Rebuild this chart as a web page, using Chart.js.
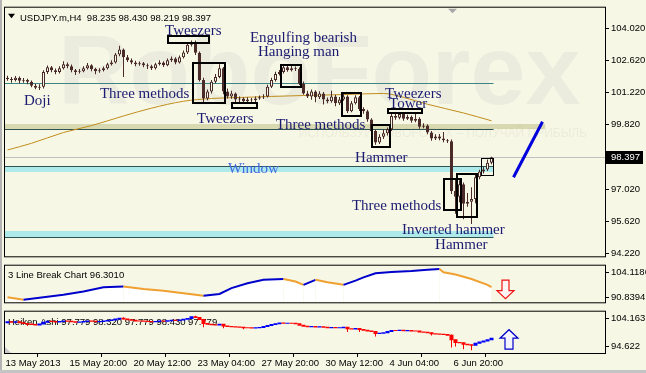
<!DOCTYPE html>
<html><head><meta charset="utf-8">
<script src="https://cdn.jsdelivr.net/npm/chart.js@4/dist/chart.umd.min.js"></script>
<style>
html,body{margin:0;padding:0;background:#f7f7e6;}
#wrap{position:relative;width:646px;height:373px;overflow:hidden;background:#f7f7e6;}
canvas{position:absolute;left:0;}
#frameL{position:absolute;left:0;top:0;width:2px;height:373px;background:#b4b4b4;}
#frameB{position:absolute;left:0;top:370px;width:646px;height:3px;background:#c4c4c4;}
</style></head><body>
<div id="wrap">
<canvas id="cA" width="646" height="264" style="top:0px"></canvas>
<canvas id="cB" width="646" height="52" style="top:258px"></canvas>
<canvas id="cC" width="646" height="69" style="top:304px"></canvas>
<div id="frameL"></div><div id="frameB"></div>
</div>
<script>
// ---------------- DATA ----------------
const symbolName = 'USDJPY.m,H4';
const lastQuote = ['98.235', '98.430', '98.219', '98.397'];
const lastPrice = 98.397;
const priceTicks = [94.22, 95.62, 97.02, 99.82, 101.22, 102.62, 104.02];
const timeLabels = ['13 May 2013', '15 May 20:00', '20 May 12:00', '23 May 04:00', '27 May 20:00', '30 May 12:00', '4 Jun 04:00', '6 Jun 20:00'];
const timeTickIdx = [0, 16, 32, 48, 64, 80, 96, 112];

const candleOpen = [101.86,101.81,101.77,101.86,101.73,101.77,101.69,101.52,101.43,101.47,
102.11,102.32,102.19,102.11,102.28,102.45,102.36,102.19,102.11,102.15,
102.28,102.41,102.24,102.15,102.19,102.28,102.45,102.53,102.87,103.09,
102.75,102.62,102.53,102.45,102.49,102.41,102.36,102.28,102.45,102.53,
102.41,102.62,102.70,102.53,102.75,102.96,103.30,103.36,102.95,101.77,
100.96,101.26,101.69,101.90,102.28,101.26,101.05,101.18,100.92,100.96,
100.84,100.92,100.88,100.96,101.01,101.05,101.47,101.77,102.03,102.11,
102.32,102.19,102.28,102.24,101.60,101.18,101.05,101.26,101.01,101.18,
100.92,100.84,101.05,100.75,100.92,101.05,100.41,100.75,101.01,100.50,
100.41,100.05,99.55,99.05,99.30,99.45,99.62,100.20,100.12,100.29,
100.08,100.16,99.99,100.08,99.73,99.78,99.48,99.22,99.31,99.22,
99.14,99.10,96.93,96.68,97.23,96.38,96.47,96.59,97.53,97.78,
97.87,98.16];
const candleHigh = [101.95,101.90,101.94,101.92,101.85,101.82,101.74,101.60,101.58,102.19,
102.40,102.37,102.26,102.36,102.58,102.53,102.44,102.24,102.24,102.36,
102.50,102.45,102.30,102.28,102.35,102.52,102.62,102.94,103.25,103.14,
102.85,102.70,102.60,102.57,102.55,102.48,102.43,102.52,102.62,102.58,
102.70,102.79,102.75,102.83,103.05,103.40,103.48,103.48,103.00,101.86,
101.35,101.77,102.03,102.45,102.33,101.40,101.30,101.22,101.05,101.01,
101.01,100.98,101.05,101.09,101.14,101.56,101.86,102.12,102.20,102.41,
102.40,102.37,102.35,102.32,101.70,101.30,101.35,101.32,101.28,101.24,
101.00,101.30,101.12,101.02,101.18,101.10,100.85,101.10,101.07,100.58,
100.47,100.10,99.60,99.40,99.62,99.70,100.30,100.28,100.37,100.34,
100.25,100.22,100.30,100.14,99.88,99.84,99.55,99.40,99.42,99.50,
99.20,99.18,97.45,97.40,97.30,96.85,97.10,97.65,97.86,97.98,
98.30,98.43];
const candleLow = [101.73,101.65,101.70,101.62,101.64,101.58,101.45,101.36,101.33,101.40,
102.03,102.10,102.02,102.05,102.22,102.28,102.10,101.98,102.05,102.10,
102.22,102.15,102.02,102.08,102.13,102.22,102.40,102.48,102.80,101.90,
102.55,102.45,102.36,102.38,102.32,102.24,102.20,102.22,102.40,102.33,
102.36,102.55,102.45,102.48,102.70,102.90,103.22,102.85,101.70,100.80,
100.88,101.18,101.62,101.84,101.14,100.96,100.95,100.80,100.72,100.74,
100.75,100.74,100.76,100.90,100.94,101.00,101.42,101.70,101.96,102.05,
102.12,102.13,102.16,101.55,101.12,100.98,100.90,100.80,100.94,100.70,
100.75,100.78,100.62,100.68,100.86,100.33,100.36,100.70,100.42,100.30,
99.95,99.45,98.95,98.98,99.20,99.35,99.55,100.04,100.06,99.99,
100.02,99.90,99.93,99.64,99.66,99.40,99.12,99.15,99.14,99.06,
99.02,96.80,95.95,96.45,95.70,96.25,95.50,96.40,97.45,97.70,
97.80,98.10];
const candleClose = [101.81,101.77,101.86,101.73,101.77,101.69,101.52,101.43,101.47,102.11,
102.32,102.19,102.11,102.28,102.45,102.36,102.19,102.11,102.15,102.28,
102.41,102.24,102.15,102.19,102.28,102.45,102.53,102.87,103.09,102.75,
102.62,102.53,102.45,102.49,102.41,102.36,102.28,102.45,102.53,102.41,
102.62,102.70,102.53,102.75,102.96,103.30,103.36,102.95,101.77,100.96,
101.26,101.69,101.90,102.28,101.26,101.05,101.18,100.92,100.96,100.84,
100.92,100.88,100.96,101.01,101.05,101.47,101.77,102.03,102.11,102.32,
102.19,102.28,102.24,101.60,101.18,101.05,101.26,101.01,101.18,100.92,
100.84,101.05,100.75,100.92,101.05,100.41,100.75,101.01,100.50,100.41,
100.05,99.55,99.05,99.30,99.45,99.62,100.20,100.12,100.29,100.08,
100.16,99.99,100.08,99.73,99.78,99.48,99.22,99.31,99.22,99.14,
99.10,96.93,96.68,97.23,96.38,96.47,96.59,97.53,97.78,97.87,
98.16,98.40];

// moving average (sampled along the bars)
const maIdx = [0, 6, 14, 21, 29, 36, 44, 51, 59, 66, 74, 84, 94, 99, 105, 114, 121];
const maVal = [98.72, 99.01, 99.48, 99.78, 100.20, 100.54, 100.84, 100.96, 101.01, 101.05, 101.09, 101.13, 101.18, 101.01, 100.71, 100.33, 99.99];

// support / resistance levels
const levelPrice = [101.65, 99.65, 98.04, 94.94];
const bandLow = [99.65, 97.74, 94.94];
const bandHigh = [99.86, 98.04, 95.19];

// forecast trend line
const trendIdx = [126.5, 133.75];
const trendPrice = [97.53, 99.95];

// candlestick pattern labels
const patternText = ['Tweezers', 'Doji', 'Three methods', 'Tweezers', 'Engulfing bearish', 'Hanging man', 'Three methods', 'Tweezers', 'Tower', 'Hammer', 'Window', 'Three methods', 'Inverted hammer', 'Hammer'];
const patternIdx = [39.4, 4.1, 23.1, 47.4, 60.6, 62.6, 67.1, 94.4, 95.4, 86.9, 55.1, 86.1, 98.6, 106.9];
const patternPrice = [103.72, 100.67, 100.97, 99.905, 103.43, 102.83, 99.65, 100.97, 100.54, 98.21, 97.70, 96.09, 95.07, 94.43];

// pattern boxes
const boxIdxFrom = [40.1, 46.4, 56.1, 68.4, 83.6, 95.1, 91.1, 109.1, 112.4, 118.4];
const boxIdxTo = [50.4, 54.4, 62.4, 73.4, 88.4, 103.6, 95.6, 113.4, 117.4, 121.4];
const boxPriceLow = [103.38, 100.75, 100.54, 101.47, 100.20, 100.33, 98.84, 96.09, 95.79, 97.61];
const boxPriceHigh = [103.68, 102.49, 100.75, 102.41, 101.22, 100.50, 99.82, 97.44, 97.66, 98.38];

// 3 Line Break indicator
const lbTitle = '3 Line Break Chart';
const lbTicks = [90.8394, 104.1186];
const lbIdx = [0, 4, 9, 14, 19, 24, 29, 34, 39, 44, 49, 53, 56, 60, 64, 69, 72, 74, 77, 80, 84, 87, 89, 92, 96, 101, 105, 108, 109, 112, 116, 120, 121];
const lbVal = [90.84, 89.51, 90.84, 92.17, 93.94, 96.15, 96.59, 95.27, 94.38, 93.05, 91.73, 92.61, 95.71, 98.36, 100.13, 100.58, 99.25, 97.48, 100.13, 98.81, 97.48, 99.69, 101.46, 103.67, 104.34, 104.78, 105.45, 105.89, 104.12, 103.01, 100.58, 97.48, 96.301];

// Heiken Ashi indicator
const haTitle = 'Heiken Ashi';
const haLegendValues = ['97.779', '98.320', '97.779', '98.430', '97.779'];
const haTicks = [94.622, 104.163];
const haOpen0 = 102.62;
const haClose = [102.93,102.78,102.93,102.62,102.32,102.16,102.01,101.86,102.16,102.78,
103.09,103.03,102.87,103.00,103.24,103.15,102.93,102.78,102.87,103.06,
103.24,103.09,102.93,103.00,103.18,103.40,103.55,103.86,104.10,103.86,
103.61,103.43,103.24,103.18,103.09,103.00,102.93,103.06,103.18,103.12,
103.30,103.46,103.37,103.55,103.80,104.04,104.60,104.41,103.70,102.32,
102.07,101.95,101.88,102.13,101.55,101.39,101.30,101.21,101.09,100.93,
100.90,100.84,100.90,101.02,101.33,101.70,102.01,102.25,102.50,102.44,
102.47,102.41,102.25,101.76,101.46,101.27,101.33,101.21,101.27,101.09,
100.96,101.06,100.90,100.96,101.09,100.62,100.53,100.66,100.32,100.10,
99.86,99.67,99.00,99.09,99.24,99.70,100.01,99.98,100.10,99.95,
99.98,99.86,99.83,99.55,99.46,99.24,98.93,98.87,98.78,98.63,
98.40,96.93,96.01,95.92,95.39,95.24,95.08,95.70,96.17,96.53,
96.93,97.39];
const haWickIdx = [5, 29, 47, 49, 54, 59, 85, 88, 92, 106, 111, 112, 114, 116];
const haWickLow = [101.55, 103.70, 104.41, 101.09, 100.78, 100.47, 99.55, 99.55, 98.01, 98.32, 94.32, 94.63, 93.70, 93.39];
const haWickHigh = [102.47, 104.47, 104.93, 103.86, 102.16, 101.09, 101.09, 100.66, 99.67, 99.24, 98.63, 96.93, 95.92, 95.24];

// ---------------- STYLE ----------------
const BG = '#f7f7e6';
const CANDLE = '#4a2b29';
const NAVY = '#1b1b72';
const SANS = '"Liberation Sans", Arial, sans-serif';
const SERIF = '"Liberation Serif", "Times New Roman", serif';
const X_MIN = -0.625, X_MAX = X_MIN + 150;

Chart.defaults.font.family = SANS;
Chart.defaults.font.size = 9.5;
Chart.defaults.color = '#000';
Chart.defaults.animation = false;
Chart.defaults.events = [];
Chart.defaults.plugins.legend.display = false;
Chart.defaults.plugins.tooltip.enabled = false;

function xAxis(show) {
  const ax = { type: 'linear', min: X_MIN, max: X_MAX, bounds: 'data', offset: false, display: show };
  if (show) {
    ax.afterBuildTicks = s => { s.ticks = timeTickIdx.map(i => ({ value: i - 0.5 })); };
    ax.afterFit = s => { s.height = 20; };
    ax.grid = { drawOnChartArea: false, drawTicks: true, tickLength: 4, color: '#000', tickColor: '#000' };
    ax.border = { display: false };
    ax.ticks = { autoSkip: false, maxRotation: 0, minRotation: 0, align: 'start', padding: 1, color: '#000',
      callback: (v, k) => timeLabels[k] };
  }
  return ax;
}
function yAxis(min, max, ticks, digits) {
  return {
    type: 'linear', position: 'right', min, max, bounds: 'data',
    afterBuildTicks: s => { s.ticks = ticks.map(v => ({ value: v })); },
    afterFit: s => { s.width = 41; },
    grid: { drawOnChartArea: false, drawTicks: true, tickLength: 4, color: '#000', tickColor: '#000' },
    border: { display: false },
    ticks: { padding: 2, color: '#000', callback: v => Number(v).toFixed(digits) }
  };
}
function frame(chart) {
  const { ctx, chartArea: a } = chart;
  ctx.save();
  ctx.strokeStyle = '#000'; ctx.lineWidth = 1;
  ctx.strokeRect(a.left - 0.5, a.top - 0.5, a.right - a.left + 1, a.bottom - a.top + 1);
  ctx.restore();
}
function arrow(ctx, cx, yStart, yTip, shaftW, headW, headH, stroke, fill) {
  const d = yTip > yStart ? 1 : -1;
  const yh = yTip - d * headH;
  ctx.beginPath();
  ctx.moveTo(cx - shaftW / 2, yStart);
  ctx.lineTo(cx + shaftW / 2, yStart);
  ctx.lineTo(cx + shaftW / 2, yh);
  ctx.lineTo(cx + headW / 2, yh);
  ctx.lineTo(cx, yTip);
  ctx.lineTo(cx - headW / 2, yh);
  ctx.lineTo(cx - shaftW / 2, yh);
  ctx.closePath();
  ctx.fillStyle = fill; ctx.fill();
  ctx.strokeStyle = stroke; ctx.lineWidth = 1.2; ctx.stroke();
}

// ---------------- MAIN CHART ----------------
const barIdx = candleClose.map((_, i) => i);
const mainDeco = {
  id: 'mainDeco',
  beforeDatasetsDraw(chart) {
    const { ctx, chartArea: a, scales: { x, y } } = chart;
    const X = i => x.getPixelForValue(i), Y = p => y.getPixelForValue(p);
    ctx.save();
    ctx.beginPath(); ctx.rect(a.left, a.top, a.right - a.left, a.bottom - a.top); ctx.clip();
    // watermark
    ctx.fillStyle = '#ececde';
    ctx.font = 'bold 99px ' + SANS;
    ctx.textAlign = 'left'; ctx.textBaseline = 'alphabetic';
    ctx.fillText('RoboForex', a.left + 53, a.top + 96);
    // bands
    const bandColor = ['#d9d9b1', '#aeeaea', '#aeeaea'];
    const bandEnd = [134.4, 121.5, 121.5];
    bandLow.forEach((lo, k) => {
      const y1 = Math.round(Y(bandHigh[k])), y2 = Math.round(Y(lo));
      ctx.fillStyle = bandColor[k];
      ctx.fillRect(a.left, y1, X(bandEnd[k]) - a.left, y2 - y1);
    });
    // faint slogan
    ctx.fillStyle = 'rgba(120,120,100,0.08)';
    ctx.font = '12px ' + SANS;
    ctx.textAlign = 'right';
    ctx.fillText('ИСПОЛЬЗУЙ ROBOFOREX – ПОЛУЧАЙ ПРИБЫЛЬ', a.left + 582, a.top + 129);
    // level lines
    const lineColor = ['#3b8585', '#2f5353', '#2f5353', '#2f5353'];
    levelPrice.forEach((p, k) => {
      const yy = Math.round(Y(p)) + 0.5;
      ctx.strokeStyle = lineColor[k]; ctx.lineWidth = 1;
      ctx.beginPath(); ctx.moveTo(a.left, yy); ctx.lineTo(X(121.5), yy); ctx.stroke();
    });
    // current price line
    const yp = Math.round(Y(lastPrice)) + 0.5;
    ctx.strokeStyle = '#c0c0c0';
    ctx.beginPath(); ctx.moveTo(a.left, yp); ctx.lineTo(a.right, yp); ctx.stroke();
    ctx.restore();
  },
  afterDatasetsDraw(chart) {
    const { ctx, chartArea: a, scales: { x, y } } = chart;
    const X = i => x.getPixelForValue(i), Y = p => y.getPixelForValue(p);
    ctx.save();
    ctx.beginPath(); ctx.rect(a.left, a.top, a.right - a.left, a.bottom - a.top); ctx.clip();
    // boxes
    ctx.strokeStyle = '#000';
    boxIdxFrom.forEach((i0, k) => {
      ctx.lineWidth = k === boxIdxFrom.length - 1 ? 1 : 2;
      const off = ctx.lineWidth === 1 ? 0.5 : 0;
      const x0 = Math.round(X(i0)) + off, x1 = Math.round(X(boxIdxTo[k])) + off;
      const y0 = Math.round(Y(boxPriceHigh[k])) + off, y1 = Math.round(Y(boxPriceLow[k])) + off;
      ctx.strokeRect(x0, y0, x1 - x0, y1 - y0);
    });
    // labels
    ctx.font = '15px ' + SERIF;
    ctx.textAlign = 'left'; ctx.textBaseline = 'alphabetic';
    patternText.forEach((t, k) => {
      ctx.fillStyle = t === 'Window' ? '#4169e1' : NAVY;
      ctx.fillText(t, X(patternIdx[k]), Y(patternPrice[k]));
    });
    ctx.restore();
  },
  afterDraw(chart) {
    const { ctx, chartArea: a, scales: { y } } = chart;
    frame(chart);
    ctx.save();
    // header
    ctx.fillStyle = '#000';
    ctx.beginPath();
    ctx.moveTo(a.left + 3, a.top + 6); ctx.lineTo(a.left + 10, a.top + 6); ctx.lineTo(a.left + 6.5, a.top + 10.5);
    ctx.closePath(); ctx.fill();
    ctx.font = '9.5px ' + SANS;
    ctx.textAlign = 'left'; ctx.textBaseline = 'alphabetic';
    ctx.fillText(symbolName + '  ' + lastQuote.join(' '), a.left + 15, a.top + 13);
    // chart shift marker
    ctx.fillStyle = '#a8a8a8';
    ctx.beginPath();
    ctx.moveTo(a.left + 443, a.top + 1); ctx.lineTo(a.left + 452, a.top + 1); ctx.lineTo(a.left + 447.5, a.top + 5.5);
    ctx.closePath(); ctx.fill();
    // price tag
    const yp = Math.round(y.getPixelForValue(lastPrice));
    ctx.fillStyle = '#000';
    ctx.fillRect(a.right + 1, yp - 6, 37, 13);
    ctx.fillStyle = '#fff';
    ctx.textBaseline = 'middle';
    ctx.fillText(lastPrice.toFixed(3), a.right + 6, yp + 0.5);
    ctx.restore();
  }
};

new Chart(document.getElementById('cA'), {
  type: 'bar',
  data: {
    datasets: [
      { type: 'line', data: maIdx.map((v, k) => ({ x: v, y: maVal[k] })), borderColor: '#c08d1c', borderWidth: 1,
        pointRadius: 0, cubicInterpolationMode: 'monotone', order: 4 },
      { data: barIdx.map(i => ({ x: i, y: [candleLow[i], candleHigh[i]] })), backgroundColor: CANDLE,
        barThickness: 1, grouped: false, inflateAmount: 0, order: 3 },
      { data: barIdx.map(i => ({ x: i, y: [candleOpen[i], candleClose[i]] })),
        backgroundColor: barIdx.map(i => candleClose[i] < candleOpen[i] ? CANDLE : BG),
        borderColor: CANDLE, borderWidth: 1, borderSkipped: false, barThickness: 3, grouped: false, inflateAmount: 0, order: 2 },
      { type: 'line', data: trendIdx.map((v, k) => ({ x: v, y: trendPrice[k] })), borderColor: '#0000dd', borderWidth: 3,
        pointRadius: 0, order: 1 }
    ]
  },
  options: {
    responsive: false, devicePixelRatio: 1,
    layout: { padding: { left: 5, right: 0, top: 4, bottom: 5 } },
    scales: { x: xAxis(false), y: yAxis(94.093, 104.911, priceTicks, 3) }
  },
  plugins: [mainDeco]
});

// ---------------- 3 LINE BREAK ----------------
const lbDeco = {
  id: 'lbDeco',
  afterDatasetsDraw(chart) {
    const { ctx, chartArea: a } = chart;
    ctx.save();
    ctx.fillStyle = '#000';
    ctx.font = '9.5px ' + SANS;
    ctx.textAlign = 'left'; ctx.textBaseline = 'alphabetic';
    ctx.fillText(lbTitle + ' ' + lbVal[lbVal.length - 1].toFixed(4), a.left + 3, a.top + 12);
    arrow(ctx, a.left + 500.5, a.top + 14.5, a.top + 33, 7, 17, 8, '#ee1111', '#fff4f4');
    ctx.restore();
    frame(chart);
  }
};
new Chart(document.getElementById('cB'), {
  type: 'line',
  data: {
    datasets: [{
      data: lbIdx.map((v, k) => ({ x: v, y: lbVal[k] })),
      borderWidth: 2, pointRadius: 0, fill: 'start', backgroundColor: '#ffffff',
      borderColor: '#f0a030',
      segment: { borderColor: c => c.p1.parsed.y > c.p0.parsed.y ? '#0000cc' : '#f0a030' }
    }]
  },
  options: {
    responsive: false, devicePixelRatio: 1,
    layout: { padding: { left: 5, right: 0, top: 4, bottom: 4 } },
    scales: { x: xAxis(false), y: yAxis(88.184, 107.659, lbTicks, 4) }
  },
  plugins: [lbDeco]
});

// ---------------- HEIKEN ASHI ----------------
const haOpen = haClose.map((c, i) => i === 0 ? haOpen0 : haClose[i - 1]);
const haUp = haClose.map((c, i) => c >= haOpen[i]);
const haDeco = {
  id: 'haDeco',
  beforeDatasetsDraw(chart) {
    const { ctx, chartArea: a } = chart;
    ctx.save();
    ctx.fillStyle = '#000';
    ctx.font = '9.5px ' + SANS;
    ctx.textAlign = 'left'; ctx.textBaseline = 'alphabetic';
    ctx.fillText(haTitle + ' ' + haLegendValues.join(' '), a.left + 3, a.top + 13.5);
    ctx.fillStyle = '#c8c8c8';
    ctx.beginPath(); ctx.moveTo(a.left, a.bottom); ctx.lineTo(a.left, a.bottom - 6); ctx.lineTo(a.left + 6, a.bottom);
    ctx.closePath(); ctx.fill();
    ctx.restore();
  },
  afterDatasetsDraw(chart) {
    const { ctx, chartArea: a } = chart;
    ctx.save();
    arrow(ctx, a.left + 504, a.top + 37.5, a.top + 18, 8, 18, 8.5, '#0000cc', '#f4f4ff');
    ctx.restore();
    frame(chart);
  }
};
new Chart(document.getElementById('cC'), {
  type: 'bar',
  data: {
    datasets: [
      { data: haWickIdx.map((v, k) => ({ x: v, y: [haWickLow[k], haWickHigh[k]] })),
        backgroundColor: haWickIdx.map(i => haUp[i] ? '#0000ff' : '#ff0000'),
        barThickness: 1, grouped: false, inflateAmount: 0, order: 2 },
      { data: haClose.map((c, i) => ({ x: i, y: [haOpen[i], c] })),
        backgroundColor: haUp.map(u => u ? '#0000ff' : '#ff0000'),
        barThickness: 3, grouped: false, inflateAmount: 0.5, order: 1 }
    ]
  },
  options: {
    responsive: false, devicePixelRatio: 1,
    layout: { padding: { left: 5, right: 0, top: 4, bottom: 0 } },
    scales: { x: xAxis(true), y: yAxis(92.467, 106.318, haTicks, 3) }
  },
  plugins: [haDeco]
});
</script>
</body></html>
